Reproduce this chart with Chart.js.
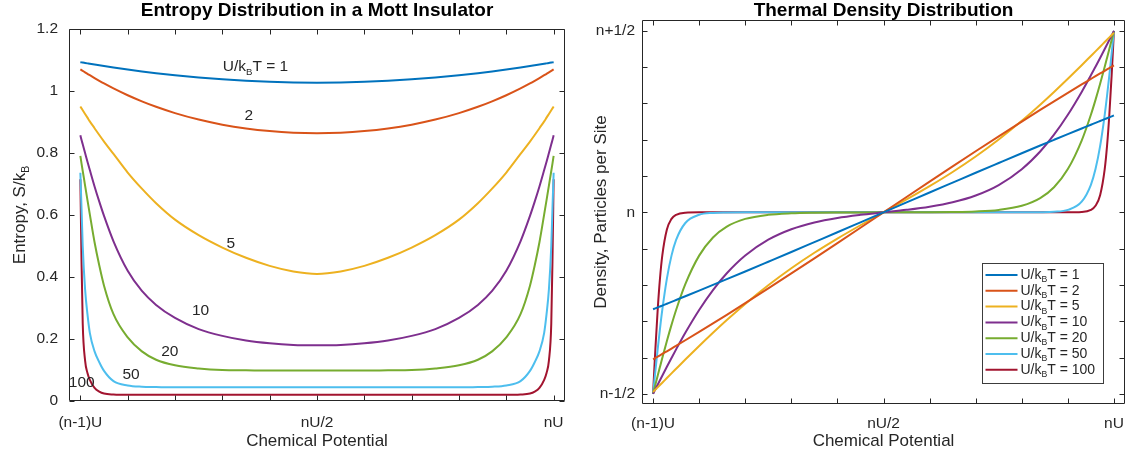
<!DOCTYPE html>
<html>
<head>
<meta charset="utf-8">
<script src="https://cdn.jsdelivr.net/npm/chart.js@4.4.1/dist/chart.umd.min.js"></script>
<style>
  html, body { margin: 0; padding: 0; background: #fff; }
  body { width: 1127px; height: 459px; position: relative; overflow: hidden; }
  .panel { position: absolute; top: 0; height: 459px; }
  #left { left: 0; width: 580px; }
  #right { left: 580px; width: 547px; }
</style>
</head>
<body>
<div class="panel" id="left"><canvas id="entropyChart" width="580" height="459"></canvas></div>
<div class="panel" id="right"><canvas id="densityChart" width="547" height="459"></canvas></div>
<script>
// chemical potential, 0 = (n-1)U, 1 = nU
const mu = [0, 0.0025, 0.005, 0.01, 0.015, 0.02, 0.03, 0.04, 0.05, 0.07, 0.1, 0.13, 0.16, 0.2, 0.25, 0.3, 0.35, 0.4, 0.45, 0.5,
  0.55, 0.6, 0.65, 0.7, 0.75, 0.8, 0.84, 0.87, 0.9, 0.93, 0.95, 0.96, 0.97, 0.98, 0.985, 0.99, 0.995, 0.9975, 1];

const seriesLabels = ["U/k_BT = 1", "U/k_BT = 2", "U/k_BT = 5", "U/k_BT = 10", "U/k_BT = 20", "U/k_BT = 50", "U/k_BT = 100"];
const seriesColors = ["#0072BD", "#D95319", "#EDB120", "#7E2F8E", "#77AC30", "#4DBEEE", "#A2142F"];

// entropy S/kB
const entropy1 = [1.093, 1.0923, 1.0917, 1.0904, 1.0891, 1.0878, 1.0853, 1.0829, 1.0805, 1.0758, 1.0692, 1.0631, 1.0575, 1.0508, 1.0435, 1.0376, 1.0329, 1.0296, 1.0277, 1.027,
  1.0277, 1.0296, 1.0329, 1.0376, 1.0435, 1.0508, 1.0575, 1.0631, 1.0692, 1.0758, 1.0805, 1.0829, 1.0853, 1.0878, 1.0891, 1.0904, 1.0917, 1.0923, 1.093];
const entropy2 = [1.07, 1.0675, 1.0651, 1.0603, 1.0555, 1.0509, 1.0418, 1.033, 1.0245, 1.0084, 0.9863, 0.9666, 0.949, 0.9287, 0.9078, 0.8914, 0.8792, 0.8707, 0.8656, 0.864,
  0.8656, 0.8707, 0.8792, 0.8914, 0.9078, 0.9287, 0.949, 0.9666, 0.9863, 1.0084, 1.0245, 1.033, 1.0418, 1.0509, 1.0555, 1.0603, 1.0651, 1.0675, 1.07];
const entropy5 = [0.95, 0.944, 0.938, 0.926, 0.914, 0.902, 0.88, 0.858, 0.837, 0.797, 0.737, 0.685, 0.638, 0.585, 0.535, 0.495, 0.462, 0.436, 0.418, 0.41,
  0.418, 0.436, 0.462, 0.495, 0.535, 0.585, 0.638, 0.685, 0.737, 0.797, 0.837, 0.858, 0.88, 0.902, 0.914, 0.926, 0.938, 0.944, 0.95];
const entropy10 = [0.857, 0.842, 0.828, 0.8, 0.772, 0.745, 0.692, 0.643, 0.597, 0.515, 0.42, 0.355, 0.31, 0.268, 0.232, 0.21, 0.195, 0.186, 0.181, 0.18,
  0.181, 0.186, 0.195, 0.21, 0.232, 0.268, 0.31, 0.355, 0.42, 0.515, 0.597, 0.643, 0.692, 0.745, 0.772, 0.8, 0.828, 0.842, 0.857];
const entropy20 = [0.791, 0.766, 0.742, 0.695, 0.648, 0.602, 0.512, 0.437, 0.372, 0.28, 0.205, 0.16, 0.133, 0.115, 0.105, 0.1, 0.099, 0.098, 0.098, 0.098,
  0.098, 0.098, 0.099, 0.1, 0.105, 0.115, 0.133, 0.16, 0.205, 0.28, 0.372, 0.437, 0.512, 0.602, 0.648, 0.695, 0.742, 0.766, 0.791];
const entropy50 = [0.736, 0.62, 0.5, 0.36, 0.28, 0.22, 0.16, 0.125, 0.097, 0.064, 0.05, 0.046, 0.045, 0.044, 0.044, 0.044, 0.044, 0.044, 0.044, 0.044,
  0.044, 0.044, 0.044, 0.044, 0.044, 0.044, 0.045, 0.046, 0.05, 0.064, 0.097, 0.125, 0.16, 0.22, 0.28, 0.36, 0.5, 0.62, 0.736];
const entropy100 = [0.715, 0.45, 0.25, 0.13, 0.09, 0.068, 0.042, 0.03, 0.024, 0.021, 0.02, 0.02, 0.02, 0.02, 0.02, 0.02, 0.02, 0.02, 0.02, 0.02,
  0.02, 0.02, 0.02, 0.02, 0.02, 0.02, 0.02, 0.02, 0.02, 0.021, 0.024, 0.03, 0.042, 0.068, 0.09, 0.13, 0.25, 0.45, 0.715];

// density relative to n
const density1 = [-0.267, -0.2657, -0.2644, -0.2619, -0.2593, -0.2568, -0.2517, -0.2466, -0.2414, -0.2311, -0.2156, -0.1999, -0.1841, -0.1629, -0.1361, -0.1092, -0.082, -0.0548, -0.0274, 0,
  0.0274, 0.0548, 0.082, 0.1092, 0.1361, 0.1629, 0.1841, 0.1999, 0.2156, 0.2311, 0.2414, 0.2466, 0.2517, 0.2568, 0.2593, 0.2619, 0.2644, 0.2657, 0.267];
const density2 = [-0.4049, -0.4031, -0.4012, -0.3976, -0.3939, -0.3901, -0.3827, -0.3752, -0.3676, -0.3524, -0.3293, -0.3059, -0.2822, -0.2502, -0.2095, -0.1683, -0.1266, -0.0846, -0.0424, 0,
  0.0424, 0.0846, 0.1266, 0.1683, 0.2095, 0.2502, 0.2822, 0.3059, 0.3293, 0.3524, 0.3676, 0.3752, 0.3827, 0.3901, 0.3939, 0.3976, 0.4012, 0.4031, 0.4049];
const density5 = [-0.495, -0.4918, -0.4885, -0.4821, -0.4757, -0.4693, -0.4564, -0.4436, -0.4309, -0.4055, -0.3681, -0.3317, -0.2966, -0.2522, -0.2008, -0.1539, -0.1113, -0.0722, -0.0355, 0,
  0.0355, 0.0722, 0.1113, 0.1539, 0.2008, 0.2522, 0.2966, 0.3317, 0.3681, 0.4055, 0.4309, 0.4436, 0.4564, 0.4693, 0.4757, 0.4821, 0.4885, 0.4918, 0.495];
const density10 = [-0.5, -0.4938, -0.4875, -0.475, -0.4626, -0.4502, -0.4255, -0.4013, -0.3775, -0.3317, -0.2688, -0.214, -0.1678, -0.1189, -0.0753, -0.0465, -0.0278, -0.0155, -0.0069, 0,
  0.0069, 0.0155, 0.0278, 0.0465, 0.0753, 0.1189, 0.1678, 0.214, 0.2688, 0.3317, 0.3775, 0.4013, 0.4255, 0.4502, 0.4626, 0.475, 0.4875, 0.4938, 0.5];
const density20 = [-0.5, -0.4875, -0.475, -0.4502, -0.4256, -0.4013, -0.3543, -0.31, -0.2689, -0.1978, -0.1192, -0.0691, -0.0392, -0.018, -0.0067, -0.0025, -0.0009, -0.0003, -0.0001, 0,
  0.0001, 0.0003, 0.0009, 0.0025, 0.0067, 0.018, 0.0392, 0.0691, 0.1192, 0.1978, 0.2689, 0.31, 0.3543, 0.4013, 0.4256, 0.4502, 0.475, 0.4875, 0.5];
const density50 = [-0.5, -0.4688, -0.4378, -0.3775, -0.3208, -0.2689, -0.1824, -0.1192, -0.0759, -0.0293, -0.0067, -0.0015, -0.0003, 0, 0, 0, 0, 0, 0, 0,
  0, 0, 0, 0, 0, 0, 0.0003, 0.0015, 0.0067, 0.0293, 0.0759, 0.1192, 0.1824, 0.2689, 0.3208, 0.3775, 0.4378, 0.4688, 0.5];
const density100 = [-0.5, -0.4378, -0.3775, -0.2689, -0.1824, -0.1192, -0.0474, -0.018, -0.0067, -0.0009, 0, 0, 0, 0, 0, 0, 0, 0, 0, 0,
  0, 0, 0, 0, 0, 0, 0, 0, 0, 0.0009, 0.0067, 0.018, 0.0474, 0.1192, 0.1824, 0.2689, 0.3775, 0.4378, 0.5];

const entropySeries = [entropy1, entropy2, entropy5, entropy10, entropy20, entropy50, entropy100];
const densitySeries = [density1, density2, density5, density10, density20, density50, density100];

// ticks
const muTickValues = [0, 0.1, 0.2, 0.3, 0.4, 0.5, 0.6, 0.7, 0.8, 0.9, 1];
const muTickLabels = ["(n-1)U", "", "", "", "", "nU/2", "", "", "", "", "nU"];
const entropyTickValues = [0, 0.2, 0.4, 0.6, 0.8, 1, 1.2];
const entropyTickLabels = ["0", "0.2", "0.4", "0.6", "0.8", "1", "1.2"];
const densityTickValues = [-0.5, -0.4, -0.3, -0.2, -0.1, 0, 0.1, 0.2, 0.3, 0.4, 0.5];
const densityTickLabels = ["n-1/2", "", "", "", "", "n", "", "", "", "", "n+1/2"];

// in-plot curve labels for the entropy chart (data coordinates)
const curveLabelText = ["U/k_BT = 1", "2", "5", "10", "20", "50", "100"];
const curveLabelMu = [0.37, 0.356, 0.318, 0.254, 0.189, 0.107, 0.003];
const curveLabelS = [1.077, 0.919, 0.506, 0.29, 0.158, 0.084, 0.058];

const fontFamily = '"Liberation Sans", Arial, Helvetica, sans-serif';
const textColor = "#262626";
const axisColor = "#262626";
const tickLen = 5;

Chart.defaults.font.family = fontFamily;
Chart.defaults.color = textColor;

/**
 * Draw a string where "_X" marks X as a subscript
 */
function drawRichText(ctx, text, x, y, size, align) {
  const parts = text.split(/_(.)/);
  const subSize = size * 0.62;
  let width = 0;
  parts.forEach((p, i) => {
    ctx.font = `${i % 2 ? subSize : size}px ${fontFamily}`;
    width += ctx.measureText(p).width;
  });
  let cx = align === "center" ? x - width / 2 : align === "right" ? x - width : x;
  ctx.textAlign = "left";
  ctx.textBaseline = "middle";
  parts.forEach((p, i) => {
    const sub = i % 2 === 1;
    ctx.font = `${sub ? subSize : size}px ${fontFamily}`;
    ctx.fillText(p, cx, sub ? y + size * 0.34 : y);
    cx += ctx.measureText(p).width;
  });
}

// MATLAB-like box with inward ticks, titles, curve labels and legend
const axisDecor = {
  id: "axisDecor",
  afterDatasetsDraw(chart, args, opts) {
    const { ctx, chartArea: a } = chart;
    const xs = chart.scales.x;
    const ys = chart.scales.y;
    ctx.save();
    ctx.strokeStyle = axisColor;
    ctx.lineWidth = 1;
    const L = Math.round(a.left) + 0.5;
    const R = Math.round(a.right) - 0.5;
    const T = Math.round(a.top) + 0.5;
    const B = Math.round(a.bottom) - 0.5;
    ctx.beginPath();
    ctx.rect(L, T, R - L, B - T);
    xs.ticks.forEach((t) => {
      const px = Math.round(xs.getPixelForValue(t.value)) + 0.5;
      ctx.moveTo(px, B);
      ctx.lineTo(px, B - tickLen);
      ctx.moveTo(px, T);
      ctx.lineTo(px, T + tickLen);
    });
    ys.ticks.forEach((t) => {
      const py = Math.round(ys.getPixelForValue(t.value)) + 0.5;
      ctx.moveTo(L, py);
      ctx.lineTo(L + tickLen, py);
      ctx.moveTo(R, py);
      ctx.lineTo(R - tickLen, py);
    });
    ctx.stroke();

    // chart title, centred over the plot box
    ctx.fillStyle = "#000";
    ctx.font = `bold 19px ${fontFamily}`;
    ctx.textAlign = "center";
    ctx.textBaseline = "middle";
    ctx.fillText(opts.title, (a.left + a.right) / 2, 11);

    ctx.fillStyle = textColor;
    ctx.save();
    ctx.translate(opts.yTitleX, (a.top + a.bottom) / 2);
    ctx.rotate(-Math.PI / 2);
    drawRichText(ctx, opts.yTitle, 0, 0, 17, "center");
    ctx.restore();

    if (opts.curveLabels) {
      curveLabelText.forEach((txt, i) => {
        drawRichText(ctx, txt, xs.getPixelForValue(curveLabelMu[i]), ys.getPixelForValue(curveLabelS[i]), 15.5, "center");
      });
    }

    if (opts.legend) {
      const w = 121, h = 120;
      const bx = Math.round(a.right) - 22 - w + 0.5;
      const by = Math.round(a.bottom) - 21 - h + 0.5;
      ctx.fillStyle = "#fff";
      ctx.fillRect(bx, by, w, h);
      ctx.strokeStyle = "#3c3c3c";
      ctx.lineWidth = 1;
      ctx.strokeRect(bx, by, w, h);
      chart.data.datasets.forEach((ds, i) => {
        const cy = by + 11.5 + i * 15.8;
        ctx.strokeStyle = ds.borderColor;
        ctx.lineWidth = 2;
        ctx.beginPath();
        ctx.moveTo(bx + 3, cy);
        ctx.lineTo(bx + 35, cy);
        ctx.stroke();
        ctx.fillStyle = textColor;
        drawRichText(ctx, ds.label, bx + 38, cy, 14, "left");
      });
    }
    ctx.restore();
  },
};

function makeDatasets(seriesList) {
  return seriesList.map((ys, i) => ({
    label: seriesLabels[i],
    data: mu.map((m, j) => ({ x: m, y: ys[j] })),
    borderColor: seriesColors[i],
    backgroundColor: seriesColors[i],
    borderWidth: 2,
    pointRadius: 0,
    cubicInterpolationMode: "monotone",
    fill: false,
  }));
}

function makeChart(canvasId, cfg) {
  const ctx = document.getElementById(canvasId).getContext("2d");
  return new Chart(ctx, {
    type: "line",
    data: { datasets: makeDatasets(cfg.series) },
    options: {
      responsive: false,
      animation: false,
      events: [],
      layout: { padding: { left: 0, right: cfg.padRight, top: cfg.padTop, bottom: 0 } },
      plugins: {
        legend: { display: false },
        tooltip: { enabled: false },
        title: { display: false },
        axisDecor: {
          title: cfg.title,
          yTitle: cfg.yTitle,
          yTitleX: cfg.yTitleX,
          curveLabels: cfg.curveLabels,
          legend: cfg.legend,
        },
      },
      scales: {
        x: {
          type: "linear",
          min: -0.024,
          max: 1.024,
          grid: { display: false, drawTicks: false },
          border: { display: false },
          ticks: {
            autoSkip: false,
            maxRotation: 0,
            padding: cfg.xTickPad,
            font: { size: 15.5 },
            callback: (v, i) => muTickLabels[i],
          },
          afterBuildTicks: (scale) => {
            scale.ticks = muTickValues.map((v) => ({ value: v }));
          },
          afterFit: (scale) => {
            scale.height = cfg.xAxisHeight;
            scale.paddingLeft = 0;
            scale.paddingRight = 0;
          },
          title: {
            display: true,
            text: "Chemical Potential",
            font: { size: 17 },
            padding: { top: 0, bottom: 7 },
          },
        },
        y: {
          type: "linear",
          min: cfg.yMin,
          max: cfg.yMax,
          grid: { display: false, drawTicks: false },
          border: { display: false },
          ticks: {
            autoSkip: false,
            padding: cfg.yTickPad,
            font: { size: 15.5 },
            callback: (v, i) => cfg.yTickLabels[i],
          },
          afterBuildTicks: (scale) => {
            scale.ticks = cfg.yTickValues.map((v) => ({ value: v }));
          },
          afterFit: (scale) => {
            scale.width = cfg.yAxisWidth;
            scale.paddingTop = 0;
            scale.paddingBottom = 0;
          },
        },
      },
    },
    plugins: [axisDecor],
  });
}

makeChart("entropyChart", {
  series: entropySeries,
  title: "Entropy Distribution in a Mott Insulator",
  padTop: 29,
  padRight: 15,
  xAxisHeight: 58,
  yAxisWidth: 69,
  xTickPad: 12,
  yTickPad: 11,
  yMin: 0,
  yMax: 1.2,
  yTickValues: entropyTickValues,
  yTickLabels: entropyTickLabels,
  yTitle: "Entropy, S/k_B",
  yTitleX: 20,
  curveLabels: true,
  legend: false,
});

makeChart("densityChart", {
  series: densitySeries,
  title: "Thermal Density Distribution",
  padTop: 20,
  padRight: 2,
  xAxisHeight: 55,
  yAxisWidth: 62,
  xTickPad: 10,
  yTickPad: 7,
  yMin: -0.528,
  yMax: 0.53,
  yTickValues: densityTickValues,
  yTickLabels: densityTickLabels,
  yTitle: "Density, Particles per Site",
  yTitleX: 21,
  curveLabels: false,
  legend: true,
});
</script>
</body>
</html>
